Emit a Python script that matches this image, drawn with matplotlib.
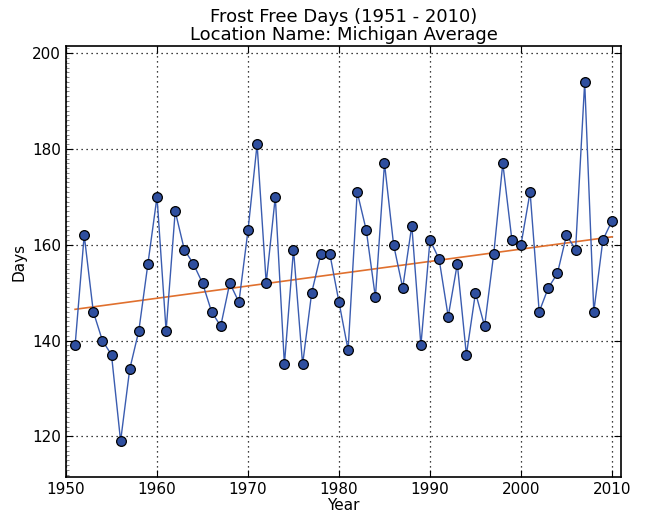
import numpy as np
import matplotlib.pyplot as plt
from matplotlib.ticker import MultipleLocator

years = list(range(1951, 2011))
days = [139, 162, 146, 140, 137, 119, 134, 142, 156, 170,
        142, 167, 159, 156, 152, 146, 143, 152, 148, 163,
        181, 152, 170, 135, 159, 135, 150, 158, 158, 148,
        138, 171, 163, 149, 177, 160, 151, 164, 139, 161,
        157, 145, 156, 137, 150, 143, 158, 177, 161, 160,
        171, 146, 151, 154, 162, 159, 194, 146, 161, 165]

x_ticks = [1950, 1960, 1970, 1980, 1990, 2000, 2010]
y_ticks = [120, 140, 160, 180, 200]

years = np.array(years, dtype=float)
days = np.array(days, dtype=float)

# linear trend
slope, intercept = np.polyfit(years, days, 1)
trend = slope * years + intercept

fig = plt.figure(figsize=(6.49, 5.14), dpi=100)
ax = fig.add_axes([0.1017, 0.072, 0.8553, 0.8385])

ax.plot(years, days, color="#3a5cb0", linewidth=1.0, marker="o",
        markersize=7, markerfacecolor="#2f4f9f", markeredgecolor="black",
        markeredgewidth=0.9, zorder=3)
ax.plot(years, trend, color="#e0702e", linewidth=1.2, zorder=2)

ax.set_xlim(1950, 2011)
ax.set_ylim(111.5, 201.5)
ax.set_xticks(x_ticks)
ax.set_yticks(y_ticks)
ax.yaxis.set_minor_locator(MultipleLocator(1))

ax.tick_params(which="major", direction="in", top=True, right=True,
               length=5, labelsize=11)
ax.tick_params(which="minor", axis="y", direction="in", left=True,
               right=False, length=2, width=0.5, color="#555555")

ax.grid(True, which="major", linestyle=(0, (1, 3)), color="black",
        linewidth=0.9)
for spine in ax.spines.values():
    spine.set_linewidth(1.2)

ax.set_xlabel("Year", fontsize=11, labelpad=1)
ax.set_ylabel("Days", fontsize=11)
ax.set_title("Frost Free Days (1951 - 2010)\nLocation Name: Michigan Average",
             fontsize=13, linespacing=1.05, pad=4)

fig.savefig("out.png", dpi=100)
